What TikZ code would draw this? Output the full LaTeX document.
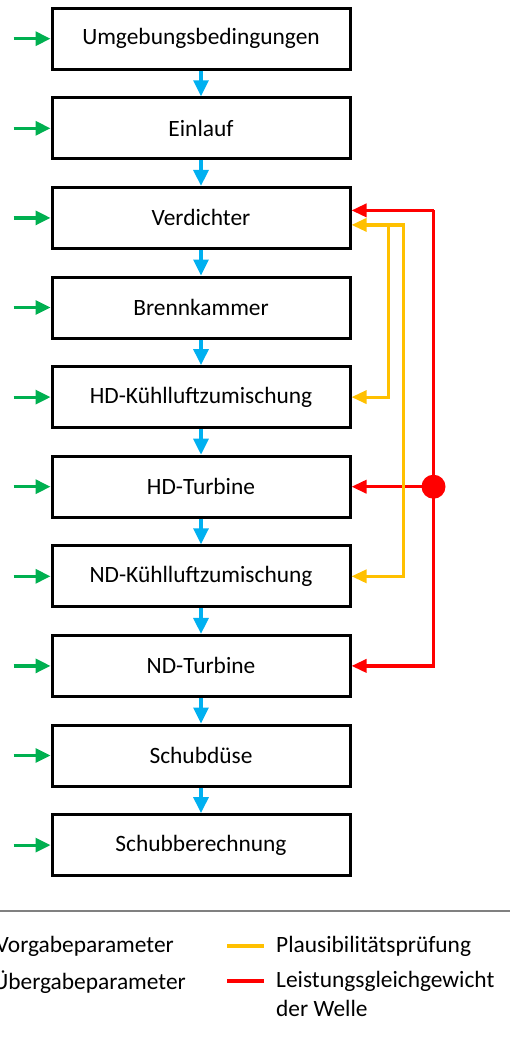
\documentclass[tikz,border=0pt]{standalone}
\usepackage{fontspec}
\setmainfont{Carlito}
\usetikzlibrary{arrows.meta,calc}
\definecolor{cgreen}{HTML}{00B050}
\definecolor{cblue}{HTML}{00B0F0}
\definecolor{cyellow}{HTML}{FFC000}
\definecolor{cred}{HTML}{FF0000}
\definecolor{cgray}{HTML}{808080}
\tikzset{
  stage/.style={draw=black, line width=3pt, minimum width=298pt, minimum height=61pt, inner sep=0pt, font=\fontsize{23.4}{28}\selectfont},
  inarrow/.style={draw=cgreen, line width=3.2pt, -{Triangle[length=15pt,width=14pt]}},
  flowarrow/.style={draw=cblue, line width=3.2pt, -{Triangle[length=16pt,width=15pt]}},
  checkline/.style={draw=cyellow, line width=3.2pt},
  shaftline/.style={draw=cred, line width=3.4pt},
  tip/.style={-{Triangle[length=15pt,width=13pt]}},
  legtext/.style={font=\fontsize{23.4}{29}\selectfont, inner sep=0pt, align=left},
}
\begin{document}
\begin{tikzpicture}[x=1pt,y=-1pt]
\useasboundingbox (0,0) rectangle (510,1038);
\node[stage] (s1) at (201,38.7) {Umgebungsbedingungen};
\node[stage] (s2) at (201,128.3) {Einlauf};
\node[stage] (s3) at (201,217.9) {Verdichter};
\node[stage] (s4) at (201,307.5) {Brennkammer};
\node[stage] (s5) at (201,397.1) {HD-Kühlluftzumischung};
\node[stage] (s6) at (201,486.7) {HD-Turbine};
\node[stage] (s7) at (201,576.3) {ND-Kühlluftzumischung};
\node[stage] (s8) at (201,665.9) {ND-Turbine};
\node[stage] (s9) at (201,755.5) {Schubdüse};
\node[stage] (s10) at (201,845.1) {Schubberechnung};
% green inputs
\foreach \i in {1,...,10} {
  \coordinate (g\i) at ($(s\i.west)+(-37,0)$);
  \draw[inarrow] (g\i) -- (s\i.west);
}
% blue flow
\foreach \i/\j in {1/2,2/3,3/4,4/5,5/6,6/7,7/8,8/9,9/10} {
  \draw[flowarrow] (s\i.south) -- (s\j.north);
}
% red shaft balance
\node[circle, fill=cred, minimum size=24pt, inner sep=0pt] (dot) at ($(s6.east)+(82,0)$) {};
\coordinate (rt) at ($(s3.east)+(82,-7.5)$);
\draw[shaftline, tip] (rt) -- (rt -| s3.east);
\draw[shaftline] (rt) -- (dot.center);
\draw[shaftline, tip] (dot.center) -- (s6.east);
\draw[shaftline, tip] (dot.center) -- (s8.east -| dot.center) -- (s8.east);
% yellow plausibility
\coordinate (y1) at ($(s3.east)+(37,7)$);
\coordinate (y2) at ($(s3.east)+(52,7)$);
\draw[checkline, {Triangle[length=15pt,width=13pt]}-{Triangle[length=15pt,width=13pt]}] (s7.east) -- (s7.east -| y2) -- (y2) -- (y2 -| s3.east);
\draw[checkline, tip] (y1) |- (s5.east);
% legend
\coordinate (la) at (0,911);
\coordinate (lb) at (510,911);
\draw[cgray, line width=2.5pt] (la) -- (lb);
\node[legtext, anchor=east] (l1) at (174,946) {Vorgabeparameter};
\node[legtext, anchor=east] (l2) at (186,982) {Übergabeparameter};
\node[legtext, anchor=west] (l3) at (276,946) {Plausibilitätsprüfung};
\node[legtext, anchor=north west] (l4) at (276,971) {Leistungsgleichgewicht\\der Welle};
\coordinate (ya) at (227,946);
\coordinate (yb) at (264,946);
\draw[cyellow, line width=3.4pt] (ya) -- (yb);
\coordinate (ra) at (227,981);
\coordinate (rb) at (264,981);
\draw[cred, line width=3.4pt] (ra) -- (rb);
\end{tikzpicture}
\end{document}
